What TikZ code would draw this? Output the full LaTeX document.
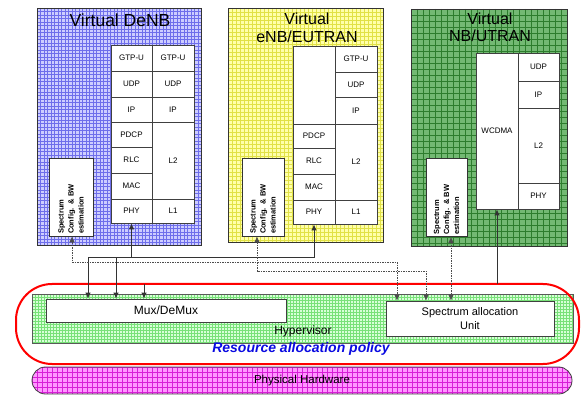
\documentclass[tikz,border=0pt]{standalone}
\usepackage{fontspec}
\setmainfont{Liberation Sans}
\usetikzlibrary{arrows.meta}
\definecolor{bluebase}{RGB}{205,205,255}
\definecolor{blueline}{RGB}{110,110,235}
\definecolor{yelbase}{RGB}{255,255,170}
\definecolor{yelline}{RGB}{225,225,70}
\definecolor{grnbase}{RGB}{115,185,115}
\definecolor{grnline}{RGB}{45,125,45}
\definecolor{hypbase}{RGB}{215,255,215}
\definecolor{hypline}{RGB}{120,225,120}
\definecolor{magbase}{RGB}{255,150,255}
\definecolor{magline}{RGB}{215,30,215}
\definecolor{polblue}{RGB}{10,10,225}
\newcommand\gridlines[6]{%
  \pgfmathtruncatemacro\gnx{(#3-#1)/#5}%
  \pgfmathtruncatemacro\gny{(#4-#2)/#5}%
  \foreach \gi in {0,...,\gnx}{\draw[#6] ({#1+\gi*#5},#2) -- ({#1+\gi*#5},#4);}%
  \foreach \gi in {0,...,\gny}{\draw[#6] (#1,{#2+\gi*#5}) -- (#3,{#2+\gi*#5});}%
}
\newcommand\cell[6]{\node[cell, minimum width={#4-#2}, minimum height={#5-#3}] (#1) at ({(#2+#4)/2},{(#3+#5)/2}) {#6};}
\begin{document}
\begin{tikzpicture}[x=1pt,y=-1pt,
  cell/.style={draw=black!75, fill=white, line width=0.7pt, inner sep=0pt, font=\fontsize{8}{9}\selectfont},
  spec/.style={draw=black!80, fill=white, line width=0.8pt, rotate=90, inner sep=2pt, align=left, text width=74pt, font=\fontsize{7.5}{10}\selectfont\bfseries},
  vbox/.style={draw=black!80, line width=0.8pt, inner sep=0pt},
  title/.style={inner sep=0pt, align=center},
  conn/.style={line width=1pt, black!80},
  arr/.style={conn, -{Latex[length=6pt,width=5.5pt]}},
  dconn/.style={line width=0.7pt, black!70, dash pattern=on 1.5pt off 1pt, {Latex[length=6pt,width=5.5pt]}-{Latex[length=6pt,width=5.5pt]}},
  thin/.style={line width=0.6pt}]
\useasboundingbox (0,0) rectangle (581,395);

% ---------- Virtual DeNB (blue)
\fill[bluebase] (37,8) rectangle (201,245);
\begin{scope}\clip (37,8) rectangle (201,245);
\gridlines{37}{8}{201}{245}{3.5}{blueline,thin}
\end{scope}
\node[vbox, minimum width=164, minimum height=237] (denb) at (119,126.5) {};
\node[title, font=\fontsize{17.5}{19}\selectfont] (denbT) at (120,20) {Virtual DeNB};
\cell{bgtpa}{111}{45}{152}{71}{GTP-U}
\cell{budpa}{111}{71}{152}{97}{UDP}
\cell{bipa}{111}{97}{152}{122}{IP}
\cell{bpdcp}{111}{122}{152}{147}{PDCP}
\cell{brlc}{111}{147}{152}{173}{RLC}
\cell{bmac}{111}{173}{152}{199}{MAC}
\cell{bphy}{111}{199}{152}{223}{PHY}
\cell{bgtpb}{152}{45}{194}{71}{GTP-U}
\cell{budpb}{152}{71}{194}{97}{UDP}
\cell{bipb}{152}{97}{194}{122}{IP}
\cell{bl2}{152}{122}{194}{199}{L2}
\cell{bl1}{152}{199}{194}{223}{L1}
\node[spec, minimum height=44] (bspec) at (71,197) {Spectrum\\Config. \& BW\\estimation};

% ---------- Virtual eNB/EUTRAN (yellow)
\fill[yelbase] (228,8) rectangle (383,242);
\begin{scope}\clip (228,8) rectangle (383,242);
\gridlines{228}{8}{383}{242}{4}{yelline,thin}
\end{scope}
\node[vbox, minimum width=155, minimum height=234] (enb) at (305.5,125) {};
\node[title, font=\fontsize{16}{18}\selectfont] (enbT) at (307,28) {Virtual\\eNB/EUTRAN};
\cell{yblank}{293}{46}{335}{124}{}
\cell{ypdcp}{293}{124}{335}{148}{PDCP}
\cell{yrlc}{293}{148}{335}{174}{RLC}
\cell{ymac}{293}{174}{335}{200}{MAC}
\cell{yphy}{293}{200}{335}{224}{PHY}
\cell{ygtp}{335}{46}{377}{72}{GTP-U}
\cell{yudp}{335}{72}{377}{97}{UDP}
\cell{yip}{335}{97}{377}{124}{IP}
\cell{yl2}{335}{124}{377}{200}{L2}
\cell{yl1}{335}{200}{377}{224}{L1}
\node[spec, minimum height=42] (yspec) at (263,197) {Spectrum\\Config. \& BW\\estimation};

% ---------- Virtual NB/UTRAN (green)
\fill[grnbase] (411,9) rectangle (567,246);
\begin{scope}\clip (411,9) rectangle (567,246);
\gridlines{411}{9}{567}{246}{6}{grnline,thin}
\end{scope}
\node[vbox, minimum width=156, minimum height=237] (nb) at (489,127.5) {};
\node[title, font=\fontsize{16}{17}\selectfont] (nbT) at (490,27) {Virtual\\NB/UTRAN};
\cell{gwcdma}{476}{53}{518}{209}{WCDMA}
\cell{gudp}{518}{53}{559}{81}{UDP}
\cell{gip}{518}{81}{559}{108}{IP}
\cell{gl2}{518}{108}{559}{183}{L2}
\cell{gphy}{518}{183}{559}{209}{PHY}
\node[spec, minimum height=41] (gspec) at (446.5,197.5) {Spectrum\\Config. \& BW\\estimation};

% ---------- Hypervisor
\fill[hypbase] (32,294) rectangle (573,343);
\begin{scope}\clip (32,294) rectangle (573,343);
\gridlines{32}{294}{573}{343}{3}{hypline,line width=0.5pt}
\end{scope}
\node[vbox, draw=black!65, minimum width=541, minimum height=49] (hyp) at (302.5,318.5) {};
\node[draw=red, line width=2pt, rounded corners=36pt, minimum width=563, minimum height=80, inner sep=0pt] (hv) at (297.5,324) {};
\node[cell, font=\fontsize{12}{13}\selectfont, minimum width=240, minimum height=23] (mux) at (166,310.5) {Mux/DeMux};
\node[cell, font=\fontsize{11}{14}\selectfont, align=center, minimum width=168, minimum height=35] (sau) at (470,318.5) {Spectrum allocation\\Unit};
\node[title, font=\fontsize{12}{13}\selectfont] (hypT) at (303,331) {Hypervisor};
\node[title, font=\fontsize{14}{15}\selectfont\bfseries\itshape, text=polblue] (pol) at (301,349) {Resource allocation policy};

% ---------- Physical Hardware
\begin{scope}\clip[rounded corners=13.5pt] (32,367) rectangle (572,394);
\fill[magbase] (32,367) rectangle (572,394);
\gridlines{32}{367}{572}{394}{5}{magline,thin}
\end{scope}
\node[draw=black!75, line width=0.8pt, rounded corners=13.5pt, minimum width=540, minimum height=27, inner sep=0pt] (phw) at (302,380.5) {};
\node[title, font=\fontsize{11.5}{13}\selectfont] (phwT) at (302,381) {Physical Hardware};

% ---------- Connectors
\coordinate (busA) at (88,258);
\coordinate (busB) at (116,258);
\coordinate (busE) at (314,258);
\draw[conn] (busA) -- (busE);
\draw[arr] (bphy.south |- busA) -- (bphy.south);
\draw[arr] (yphy.south |- busE) -- (yphy.south);
\draw[arr] (busA) -- (busA |- mux.north);
\draw[arr] (busB) -- (busB |- mux.north);
\coordinate (rA) at (144,284);
\draw[arr] (rA) -- (rA |- mux.north);
\coordinate (rB) at (497,284);
\draw[arr] (rB) -- (gwcdma.south);

\coordinate (dA) at (72,262);
\coordinate (dB) at (397,262);
\draw[dconn] (dA |- bspec.west) -- (dA) -- (dB) -- (dB |- sau.north);
\coordinate (dC) at (257,271);
\coordinate (dD) at (426,271);
\draw[dconn] (dC |- yspec.west) -- (dC) -- (dD) -- (dD |- sau.north);
\coordinate (dE) at (451,250);
\draw[dconn] (dE |- gspec.west) -- (dE |- sau.north);
\end{tikzpicture}
\end{document}
